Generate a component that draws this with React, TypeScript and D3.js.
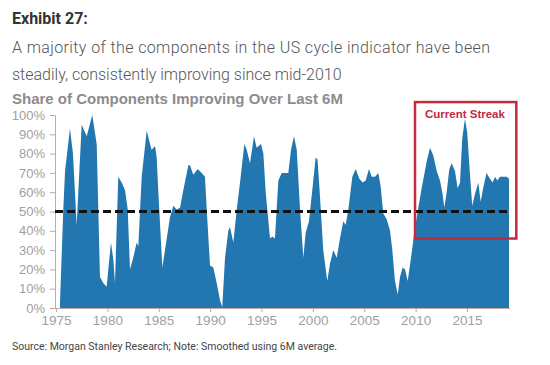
import React, { useEffect, useRef } from "react";
import * as d3 from "d3";

// decimal year of each reading
const years = [
  1975.39, 1975.71, 1975.88, 1976.36, 1976.65, 1977.01, 1977.5, 1977.99, 1978.53, 1978.96,
  1979.28, 1979.6, 1979.93, 1980.09, 1980.35, 1980.58, 1980.74, 1981.06, 1981.39, 1981.72,
  1981.98, 1982.2, 1982.52, 1982.85, 1983.01, 1983.34, 1983.83, 1984.15, 1984.31, 1984.64,
  1984.8, 1984.96, 1985.35, 1985.61, 1986.09, 1986.42, 1986.75, 1987.07, 1987.39, 1987.88,
  1988.04, 1988.36, 1988.79, 1989.18, 1989.5, 1989.67, 1989.99, 1990.31, 1990.64, 1990.96,
  1991.18, 1991.45, 1991.77, 1991.93, 1992.26, 1992.59, 1992.91, 1993.33, 1993.56, 1993.88,
  1994.27, 1994.53, 1994.95, 1995.18, 1995.41, 1995.83, 1996.05, 1996.31, 1996.64, 1996.97,
  1997.29, 1997.61, 1997.87, 1998.16, 1998.43, 1998.75, 1999.07, 1999.3, 1999.62, 1999.98,
  2000.27, 2000.45, 2000.64, 2001.01, 2001.4, 2001.67, 2001.99, 2002.32, 2002.64, 2002.96,
  2003.19, 2003.45, 2003.84, 2004.17, 2004.52, 2004.85, 2005.14, 2005.46, 2005.73, 2006.05,
  2006.37, 2006.6, 2006.85, 2007.18, 2007.51, 2007.73, 2007.99, 2008.26, 2008.48, 2008.74,
  2008.97, 2009.23, 2009.55, 2009.87, 2010.26, 2010.59, 2011.08, 2011.4, 2011.72, 2012.05,
  2012.37, 2012.63, 2012.79, 2013.02, 2013.28, 2013.51, 2013.83, 2014.09, 2014.32, 2014.54,
  2014.8, 2015.02, 2015.29, 2015.51, 2015.77, 2016.1, 2016.33, 2016.57, 2016.9, 2017.23,
  2017.49, 2017.73, 2017.95, 2018.21, 2018.53, 2018.86, 2019.09,
];

// share of components improving, %
const shareImproving = [
  3, 51, 71, 93, 80, 43, 95, 89, 100, 85,
  16, 13, 11, 20, 34, 25, 13, 68, 65, 61,
  51, 20, 26, 34, 32, 68, 92, 85, 82, 84,
  78, 60, 21, 30, 47, 53, 51, 52, 61, 74,
  74, 69, 72, 70, 68, 51, 22, 21, 13, 4,
  0.5, 26, 40, 42, 34, 51, 65, 85, 82, 75,
  89, 83, 85, 80, 60, 36, 37, 36, 66, 70,
  70, 70, 82, 89, 82, 51, 26, 39, 45, 63,
  78, 77, 62, 30, 14, 23, 30, 26, 36, 45,
  43, 51, 68, 72, 67, 65, 66, 72, 68, 68,
  70, 63, 49, 46, 40, 30, 14, 7, 16, 21,
  20, 14, 26, 39, 52, 62, 76, 83, 79, 71,
  66, 59, 52, 60, 72, 75, 71, 62, 65, 88,
  98, 91, 69, 53, 59, 65, 55, 62, 70, 67,
  65, 68, 66, 68, 68, 68, 67,
];

const yTicks = [0, 10, 20, 30, 40, 50, 60, 70, 80, 90, 100];
const xTicks = [1975, 1980, 1985, 1990, 1995, 2000, 2005, 2010, 2015];
const threshold = 50;
// current streak box: [start year, end year, low %, high %]
const streak = [2009.94, 2019.8, 36, 106.7];

const W = 550;
const H = 365;

export default function App() {
  const ref = useRef<SVGSVGElement | null>(null);

  useEffect(() => {
    const svg = d3.select(ref.current);
    svg.selectAll("*").remove();

    const x = d3.scaleLinear().domain([1975, 2015]).range([56, 467]);
    const y = d3.scaleLinear().domain([0, 100]).range([308, 115]);

    const data = years.map((yr, i) => ({ yr, v: shareImproving[i] }));

    // headings
    svg.append("text")
      .attr("x", 12).attr("y", 24)
      .style("font-family", "Roboto, sans-serif")
      .style("font-weight", 700)
      .style("font-size", "16px")
      .style("fill", "#333")
      .text("Exhibit 27:");

    svg.append("text")
      .attr("x", 12).attr("y", 53)
      .attr("textLength", 478)
      .attr("lengthAdjust", "spacing")
      .style("font-family", "Roboto, sans-serif")
      .style("font-weight", 300)
      .style("font-size", "16px")
      .style("fill", "#555")
      .text("A majority of the components in the US cycle indicator have been");

    svg.append("text")
      .attr("x", 12).attr("y", 80)
      .style("font-family", "Roboto, sans-serif")
      .style("font-weight", 300)
      .style("font-size", "16px")
      .style("fill", "#555")
      .text("steadily, consistently improving since mid-2010");

    svg.append("text")
      .attr("x", 12).attr("y", 104)
      .style("font-family", "'Liberation Sans', Arial, sans-serif")
      .style("font-weight", 700)
      .style("font-size", "15px")
      .style("fill", "#8c8c8c")
      .text("Share of Components Improving Over Last 6M");

    // area
    const area = d3.area<{ yr: number; v: number }>()
      .x(d => x(d.yr))
      .y0(y(0))
      .y1(d => y(d.v));

    svg.append("path")
      .datum(data)
      .attr("d", area)
      .attr("fill", "#2277b0");

    // axes
    const yAxis = svg.append("g")
      .attr("transform", `translate(55,0)`)
      .call(d3.axisLeft(y).tickValues(yTicks).tickFormat(d => `${d}%`).tickSize(5).tickSizeOuter(0));
    yAxis.select(".domain").attr("stroke", "#c8a8a8");
    yAxis.selectAll("line").attr("stroke", "#b8a8a8");
    yAxis.selectAll("text")
      .attr("x", -10)
      .style("font-family", "'Liberation Sans', Arial, sans-serif")
      .style("font-size", "13px")
      .style("fill", "#a0a0a0");

    const xAxis = svg.append("g")
      .attr("transform", `translate(0,308)`)
      .call(d3.axisBottom(x).tickValues(xTicks).tickFormat(d3.format("d")).tickSize(4).tickSizeOuter(0));
    xAxis.select(".domain").attr("stroke", "#c8a8a8").attr("d", `M55,0.5H510`);
    xAxis.selectAll("line").attr("stroke", "#b8a8a8");
    xAxis.selectAll("text")
      .attr("y", 7)
      .style("font-family", "'Liberation Sans', Arial, sans-serif")
      .style("font-size", "13.5px")
      .style("fill", "#a0a0a0");

    // 50% line
    svg.append("line")
      .attr("x1", 55).attr("x2", x(years[years.length - 1]))
      .attr("y1", y(threshold)).attr("y2", y(threshold))
      .attr("stroke", "#111")
      .attr("stroke-width", 3)
      .attr("stroke-dasharray", "8,4");

    // current streak box
    svg.append("rect")
      .attr("x", x(streak[0])).attr("y", y(streak[3]))
      .attr("width", x(streak[1]) - x(streak[0]))
      .attr("height", y(streak[2]) - y(streak[3]))
      .attr("fill", "none")
      .attr("stroke", "#c22a3e")
      .attr("stroke-width", 2.5);

    svg.append("text")
      .attr("x", x(streak[0]) + 10).attr("y", y(streak[3]) + 16)
      .style("font-family", "'Liberation Sans', Arial, sans-serif")
      .style("font-weight", 700)
      .style("font-size", "11.5px")
      .style("fill", "#c22a3e")
      .text("Current Streak");

    svg.append("text")
      .attr("x", 12).attr("y", 350)
      .style("font-family", "Roboto, sans-serif")
      .style("font-size", "10.5px")
      .style("fill", "#444")
      .text("Source: Morgan Stanley Research; Note: Smoothed using 6M average.");
  }, []);

  return (
    <svg
      ref={ref}
      width={W}
      height={H}
      style={{ position: "absolute", left: 0, top: 0, background: "#fff" }}
    />
  );
}
